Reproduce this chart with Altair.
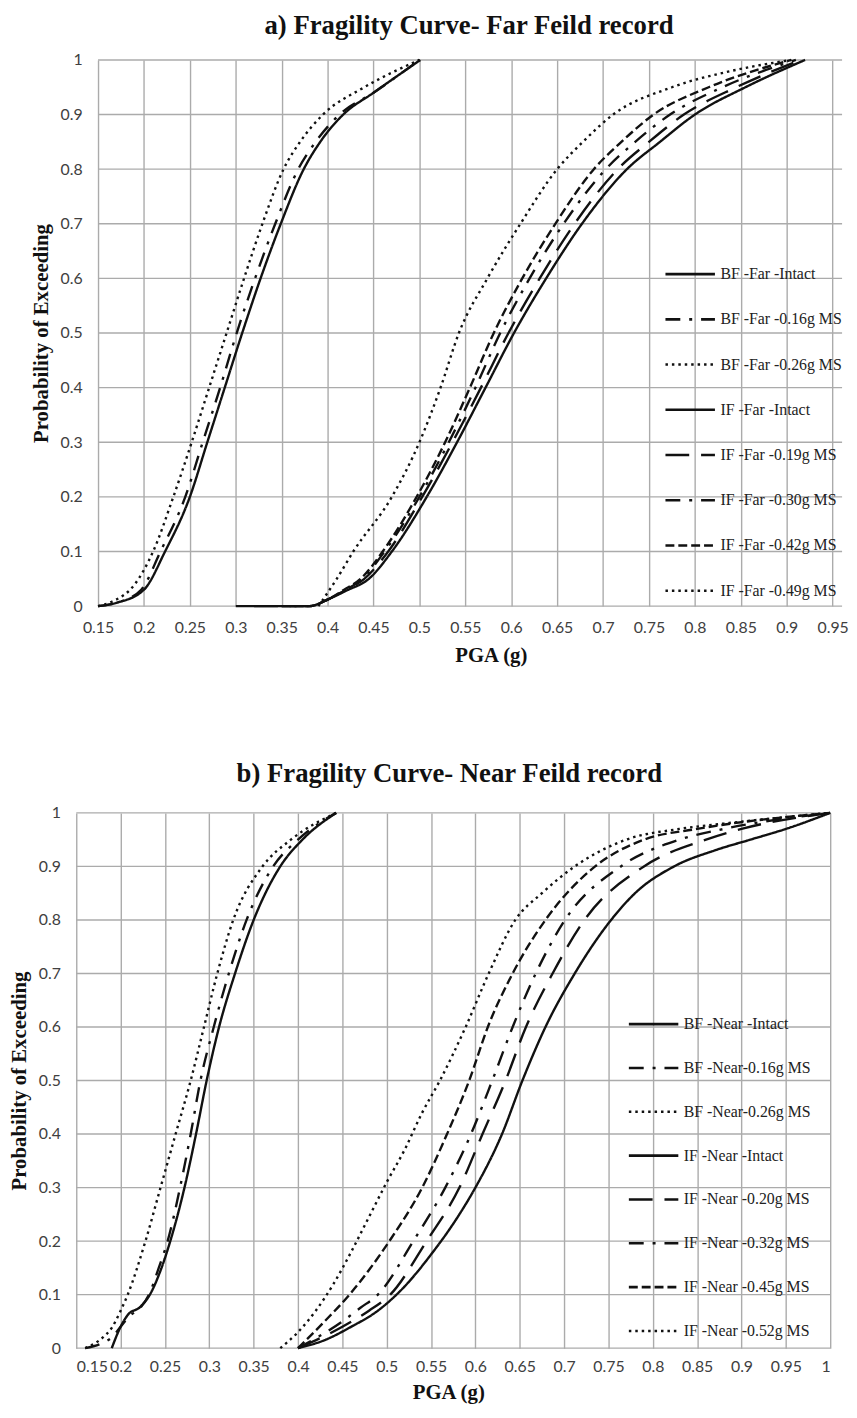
import altair as alt
import pandas as pd

# ---------------- Panel a: Far field ----------------
far_names = ["BF -Far -Intact", "BF -Far -0.16g MS", "BF -Far -0.26g MS",
             "IF -Far -Intact", "IF -Far -0.19g MS", "IF -Far -0.30g MS",
             "IF -Far -0.42g MS", "IF -Far -0.49g MS"]

bf_far_intact_x = [0.15, 0.17, 0.20, 0.223, 0.25, 0.269, 0.288, 0.307, 0.327, 0.349, 0.374, 0.392, 0.417, 0.45, 0.501]
bf_far_intact_y = [0.0, 0.006, 0.03, 0.10, 0.20, 0.30, 0.40, 0.50, 0.60, 0.70, 0.80, 0.85, 0.90, 0.94, 1.0]
bf_far_016_x = [0.15, 0.17, 0.197, 0.218, 0.245, 0.264, 0.283, 0.301, 0.321, 0.343, 0.368, 0.387, 0.413, 0.45, 0.50]
bf_far_016_y = [0.0, 0.006, 0.03, 0.10, 0.20, 0.30, 0.40, 0.50, 0.60, 0.70, 0.80, 0.85, 0.90, 0.94, 1.0]
bf_far_026_x = [0.15, 0.165, 0.19, 0.21, 0.232, 0.252, 0.271, 0.29, 0.309, 0.329, 0.352, 0.37, 0.395, 0.44, 0.50]
bf_far_026_y = [0.0, 0.008, 0.04, 0.10, 0.20, 0.30, 0.40, 0.50, 0.60, 0.70, 0.80, 0.85, 0.90, 0.95, 1.0]
if_far_intact_x = [0.30, 0.38, 0.40, 0.42, 0.445, 0.47, 0.508, 0.541, 0.572, 0.603, 0.638, 0.677, 0.726, 0.762, 0.80, 0.855, 0.92]
if_far_intact_y = [0.0, 0.0, 0.012, 0.028, 0.05, 0.10, 0.20, 0.30, 0.40, 0.50, 0.60, 0.70, 0.80, 0.85, 0.90, 0.95, 1.0]
if_far_019_x = [0.32, 0.38, 0.40, 0.42, 0.44, 0.466, 0.503, 0.536, 0.567, 0.597, 0.631, 0.669, 0.716, 0.75, 0.788, 0.845, 0.915]
if_far_019_y = [0.0, 0.0, 0.012, 0.03, 0.05, 0.10, 0.20, 0.30, 0.40, 0.50, 0.60, 0.70, 0.80, 0.85, 0.90, 0.95, 1.0]
if_far_030_x = [0.35, 0.38, 0.40, 0.42, 0.438, 0.462, 0.50, 0.532, 0.561, 0.588, 0.62, 0.657, 0.703, 0.735, 0.773, 0.83, 0.91]
if_far_030_y = [0.0, 0.0, 0.012, 0.03, 0.05, 0.10, 0.20, 0.30, 0.40, 0.50, 0.60, 0.70, 0.80, 0.85, 0.90, 0.95, 1.0]
if_far_042_x = [0.35, 0.38, 0.40, 0.418, 0.436, 0.46, 0.497, 0.528, 0.555, 0.581, 0.612, 0.648, 0.69, 0.72, 0.755, 0.815, 0.905]
if_far_042_y = [0.0, 0.0, 0.012, 0.03, 0.05, 0.10, 0.20, 0.30, 0.40, 0.50, 0.60, 0.70, 0.80, 0.85, 0.90, 0.95, 1.0]
if_far_049_x = [0.39, 0.41, 0.428, 0.47, 0.50, 0.523, 0.543, 0.574, 0.61, 0.65, 0.678, 0.711, 0.775, 0.84, 0.905]
if_far_049_y = [0.0, 0.05, 0.10, 0.20, 0.30, 0.40, 0.50, 0.60, 0.70, 0.80, 0.85, 0.90, 0.95, 0.98, 1.0]

far_x = [bf_far_intact_x, bf_far_016_x, bf_far_026_x, if_far_intact_x,
         if_far_019_x, if_far_030_x, if_far_042_x, if_far_049_x]
far_y = [bf_far_intact_y, bf_far_016_y, bf_far_026_y, if_far_intact_y,
         if_far_019_y, if_far_030_y, if_far_042_y, if_far_049_y]

# ---------------- Panel b: Near field ----------------
near_names = ["BF -Near -Intact", "BF -Near-0.16g MS", "BF -Near-0.26g MS",
              "IF -Near -Intact", "IF -Near -0.20g MS", "IF -Near -0.32g MS",
              "IF -Near -0.45g MS", "IF -Near -0.52g MS"]

bf_near_intact_x = [0.19, 0.20, 0.208, 0.222, 0.233, 0.245, 0.256, 0.272, 0.285, 0.297, 0.311, 0.329, 0.35, 0.38, 0.405, 0.443]
bf_near_intact_y = [0.0, 0.04, 0.062, 0.077, 0.10, 0.145, 0.20, 0.30, 0.40, 0.50, 0.60, 0.70, 0.80, 0.90, 0.95, 1.0]
bf_near_016_x = [0.16, 0.18, 0.19, 0.20, 0.21, 0.222, 0.232, 0.243, 0.253, 0.267, 0.279, 0.29, 0.305, 0.322, 0.342, 0.372, 0.40, 0.443]
bf_near_016_y = [0.0, 0.01, 0.02, 0.04, 0.06, 0.075, 0.10, 0.15, 0.20, 0.30, 0.40, 0.50, 0.60, 0.70, 0.80, 0.90, 0.95, 1.0]
bf_near_026_x = [0.16, 0.17, 0.18, 0.19, 0.20, 0.208, 0.228, 0.245, 0.262, 0.279, 0.294, 0.309, 0.327, 0.36, 0.392, 0.443]
bf_near_026_y = [0.0, 0.008, 0.02, 0.038, 0.07, 0.10, 0.20, 0.30, 0.40, 0.50, 0.60, 0.70, 0.80, 0.90, 0.95, 1.0]
if_near_intact_x = [0.40, 0.43, 0.46, 0.49, 0.52, 0.55, 0.58, 0.60, 0.63, 0.653, 0.679, 0.712, 0.753, 0.78, 0.824, 0.87, 0.91, 0.95, 1.0]
if_near_intact_y = [0.0, 0.015, 0.04, 0.07, 0.115, 0.175, 0.245, 0.30, 0.40, 0.50, 0.60, 0.70, 0.80, 0.85, 0.90, 0.93, 0.95, 0.97, 1.0]
if_near_020_x = [0.40, 0.45, 0.48, 0.504, 0.545, 0.582, 0.608, 0.634, 0.657, 0.687, 0.723, 0.79, 0.86, 0.90, 1.0]
if_near_020_y = [0.0, 0.04, 0.07, 0.10, 0.20, 0.30, 0.40, 0.50, 0.60, 0.70, 0.80, 0.90, 0.95, 0.97, 1.0]
if_near_032_x = [0.40, 0.45, 0.47, 0.49, 0.53, 0.566, 0.595, 0.619, 0.642, 0.668, 0.701, 0.764, 0.83, 0.88, 1.0]
if_near_032_y = [0.0, 0.05, 0.075, 0.10, 0.20, 0.30, 0.40, 0.50, 0.60, 0.70, 0.80, 0.90, 0.95, 0.97, 1.0]
if_near_045_x = [0.40, 0.43, 0.458, 0.503, 0.54, 0.568, 0.593, 0.614, 0.642, 0.679, 0.735, 0.79, 0.85, 1.0]
if_near_045_y = [0.0, 0.05, 0.10, 0.20, 0.30, 0.40, 0.50, 0.60, 0.70, 0.80, 0.90, 0.95, 0.97, 1.0]
if_near_052_x = [0.38, 0.40, 0.42, 0.44, 0.46, 0.48, 0.50, 0.52, 0.54, 0.56, 0.589, 0.615, 0.645, 0.675, 0.712, 0.77, 0.83, 0.88, 1.0]
if_near_052_y = [0.0, 0.03, 0.07, 0.12, 0.18, 0.245, 0.31, 0.37, 0.44, 0.50, 0.60, 0.70, 0.80, 0.85, 0.90, 0.95, 0.97, 0.98, 1.0]

near_x = [bf_near_intact_x, bf_near_016_x, bf_near_026_x, if_near_intact_x,
          if_near_020_x, if_near_032_x, if_near_045_x, if_near_052_x]
near_y = [bf_near_intact_y, bf_near_016_y, bf_near_026_y, if_near_intact_y,
          if_near_020_y, if_near_032_y, if_near_045_y, if_near_052_y]

# line styles (order matches legend)
dash_styles = [[1, 0], [15, 9, 3, 9], [2.5, 4], [1, 0], [24, 12], [15, 9, 3, 9], [9, 4], [2.5, 4]]

far_ticks = [0.15, 0.2, 0.25, 0.3, 0.35, 0.4, 0.45, 0.5, 0.55, 0.6, 0.65, 0.7, 0.75, 0.8, 0.85, 0.9, 0.95]
near_ticks = far_ticks + [1.0]
y_ticks = [0, 0.1, 0.2, 0.3, 0.4, 0.5, 0.6, 0.7, 0.8, 0.9, 1.0]

SERIF = "Times New Roman, Liberation Serif, serif"
SANS = "Lato"
GRID = "#ababab"


def build(names, xs, ys, title, xmin, xmax, xticks, width, height, lx, ly, rowpad,
          yoff, xlp, xtp, xtitle_x, tdx, toff):
    rows = []
    for n, xx, yy in zip(names, xs, ys):
        for a, b in zip(xx, yy):
            rows.append({"series": n, "pga": a, "p": b})
    df = pd.DataFrame(rows)

    xaxis = alt.Axis(values=xticks, title="PGA (g)", labelExpr="format(datum.value, '~g')",
                     grid=True, gridColor=GRID, gridWidth=1.4, ticks=False, domain=False,
                     labelFont=SANS, labelFontSize=16, labelColor="#404040",
                     labelPadding=xlp, labelOverlap=False,
                     titleFont=SERIF, titleFontSize=21, titleFontWeight="bold",
                     titleColor="#111111", titlePadding=xtp, titleX=xtitle_x)
    yaxis = alt.Axis(values=y_ticks, title="Probability of Exceeding",
                     labelExpr="format(datum.value, '~g')",
                     grid=False, ticks=False, domain=False, offset=yoff,
                     labelFont=SANS, labelFontSize=16, labelColor="#404040",
                     labelPadding=16,
                     titleFont=SERIF, titleFontSize=21, titleFontWeight="bold",
                     titleColor="#111111", titlePadding=9)
    xscale = alt.Scale(domain=[xmin, xmax], nice=False, zero=False)
    yscale = alt.Scale(domain=[0, 1], nice=False)

    grid_df = pd.DataFrame({"p": y_ticks, "pga": [0.15] * len(y_ticks),
                            "pga_end": [xmax] * len(y_ticks)})
    hgrid = alt.Chart(grid_df).mark_rule(color=GRID, strokeWidth=1.4).encode(
        x=alt.X("pga:Q", scale=xscale, axis=xaxis),
        x2="pga_end:Q",
        y=alt.Y("p:Q", scale=yscale, axis=yaxis),
    )

    lines = alt.Chart(df).mark_line(interpolate="monotone", color="#111111",
                                    strokeWidth=2.4).encode(
        x=alt.X("pga:Q", scale=xscale, axis=xaxis),
        y=alt.Y("p:Q", scale=yscale, axis=yaxis),
        strokeDash=alt.StrokeDash("series:N",
                                  scale=alt.Scale(domain=names, range=dash_styles),
                                  sort=names,
                                  legend=alt.Legend(orient="none", legendX=lx, legendY=ly,
                                                    title=None, symbolType="stroke",
                                                    symbolSize=2500, symbolStrokeWidth=2.6,
                                                    symbolStrokeColor="#111111",
                                                    labelFont=SERIF, labelFontSize=16,
                                                    labelColor="#222222", labelOffset=4,
                                                    rowPadding=rowpad, padding=0, labelLimit=300)),
    )
    edge = alt.Chart(pd.DataFrame({"k": [0]})).mark_rule(strokeOpacity=0, color="white").encode(
        x=alt.value(-67), x2=alt.value(-67), y=alt.value(100), y2=alt.value(110))
    return alt.layer(hgrid, lines, edge).properties(
        width=width, height=height,
        title=alt.Title(title, font=SERIF, fontSize=27, fontWeight="bold", color="#111111",
                        anchor="middle", frame="group", offset=toff, dx=tdx),
    )


# panel a: plot origin shares the left edge of panel b; its 0.15 line sits 22 px further right
panel_a = build(far_names, far_x, far_y, "a) Fragility Curve- Far Feild record",
                0.15 - 22 / 928.0, 0.9603, far_ticks, 774, 552, 594, 190, 10.7, -22, 14, 9, 419, 10, 12)
panel_b = build(near_names, near_x, near_y, "b) Fragility Curve- Near Feild record",
                0.15, 1.0, near_ticks, 762, 541, 557, 187, 9.3, 0, 11, 7, 376, -4, 17)

chart = alt.vconcat(panel_a, panel_b, spacing=96).resolve_scale(
    strokeDash="independent", x="independent", y="independent"
).resolve_legend(strokeDash="independent").configure_view(stroke=None).properties(
    padding={"left": 0, "top": -3, "right": 0, "bottom": 0}, background="white"
)

chart.save("out.html", embed_options={"renderer": "svg", "actions": False})
